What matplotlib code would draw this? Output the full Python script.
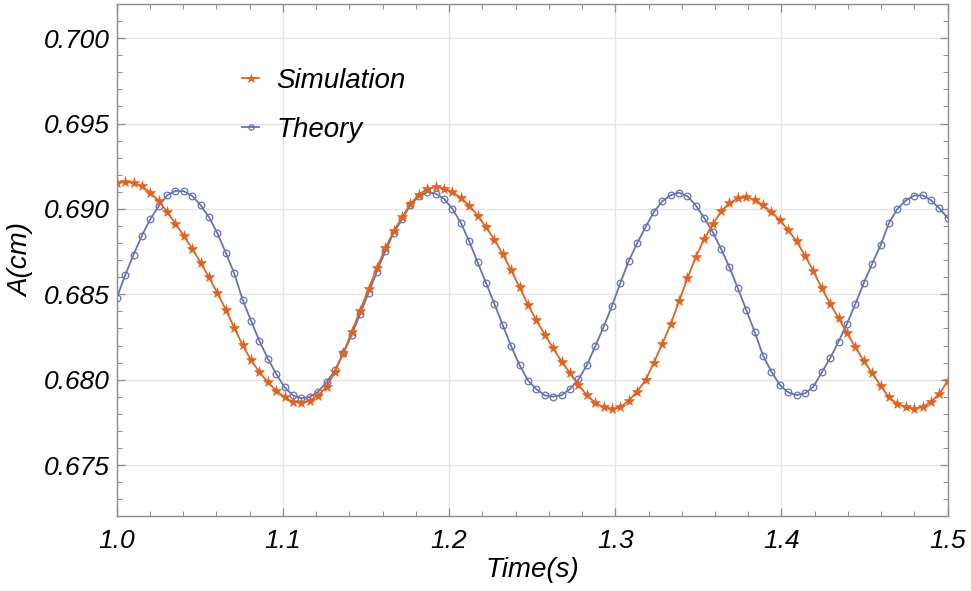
import matplotlib
matplotlib.use("Agg")
import matplotlib.pyplot as plt
import numpy as np
from matplotlib.ticker import MultipleLocator, FormatStrFormatter

plt.rcParams['font.family'] = ['Liberation Sans', 'DejaVu Sans']

# sampling times (100 samples between 1.0 s and 1.5 s)
time = np.linspace(1.0, 1.5, 100)

simulation = [
    0.69153, 0.69158, 0.69153, 0.69133, 0.69094, 0.69048, 0.68984, 0.68914, 0.68842, 0.68766,
    0.68685, 0.68599, 0.68507, 0.68410, 0.68305, 0.68202, 0.68115, 0.68045, 0.67985, 0.67936,
    0.67897, 0.67871, 0.67864, 0.67877, 0.67906, 0.67959, 0.68045, 0.68157, 0.68280, 0.68405,
    0.68530, 0.68655, 0.68770, 0.68870, 0.68951, 0.69029, 0.69084, 0.69117, 0.69129, 0.69119,
    0.69100, 0.69065, 0.69020, 0.68960, 0.68894, 0.68820, 0.68735, 0.68640, 0.68540, 0.68440,
    0.68347, 0.68264, 0.68184, 0.68106, 0.68038, 0.67969, 0.67910, 0.67865, 0.67838, 0.67826,
    0.67838, 0.67878, 0.67930, 0.67998, 0.68100, 0.68210, 0.68325, 0.68460, 0.68595, 0.68720,
    0.68825, 0.68910, 0.68985, 0.69035, 0.69062, 0.69068, 0.69055, 0.69022, 0.68982, 0.68933,
    0.68877, 0.68810, 0.68726, 0.68635, 0.68535, 0.68445, 0.68360, 0.68273, 0.68190, 0.68111,
    0.68038, 0.67965, 0.67897, 0.67858, 0.67838, 0.67830, 0.67838, 0.67871, 0.67916, 0.67993,
]

theory = [
    0.68478, 0.68611, 0.68732, 0.68844, 0.68940, 0.69016, 0.69080, 0.69106, 0.69104, 0.69076,
    0.69022, 0.68951, 0.68857, 0.68743, 0.68622, 0.68469, 0.68345, 0.68227, 0.68124, 0.68034,
    0.67955, 0.67908, 0.67891, 0.67899, 0.67930, 0.67985, 0.68055, 0.68155, 0.68263, 0.68384,
    0.68508, 0.68633, 0.68753, 0.68860, 0.68940, 0.69025, 0.69074, 0.69098, 0.69090, 0.69059,
    0.69000, 0.68918, 0.68810, 0.68687, 0.68566, 0.68444, 0.68318, 0.68195, 0.68085, 0.67995,
    0.67944, 0.67908, 0.67901, 0.67909, 0.67945, 0.68002, 0.68084, 0.68195, 0.68308, 0.68432,
    0.68566, 0.68695, 0.68799, 0.68893, 0.68983, 0.69045, 0.69080, 0.69096, 0.69074, 0.69020,
    0.68947, 0.68866, 0.68766, 0.68658, 0.68536, 0.68409, 0.68280, 0.68141, 0.68047, 0.67969,
    0.67926, 0.67910, 0.67920, 0.67959, 0.68043, 0.68126, 0.68223, 0.68327, 0.68444, 0.68566,
    0.68679, 0.68786, 0.68918, 0.69000, 0.69049, 0.69078, 0.69080, 0.69051, 0.69004, 0.68947,
]

ORANGE = '#DF6420'
BLUE = '#6673B3'
FRAME = '#8c8c8c'

fig = plt.figure(figsize=(9.71, 5.91), dpi=100)
ax = fig.add_axes([0.1202, 0.1264, 0.8558, 0.8668])

th_line, = ax.plot(time, theory, color=BLUE, lw=1.3, marker='o', ms=4.8,
                   mfc='none', mec=BLUE, mew=0.9, label='Theory')
sim_line, = ax.plot(time, simulation, color=ORANGE, lw=1.3, marker='*', ms=8,
                    mec=ORANGE, mew=0.4, label='Simulation')

ax.set_xlim(1.0, 1.5)
ax.set_ylim(0.672, 0.702)

ax.xaxis.set_major_locator(MultipleLocator(0.1))
ax.xaxis.set_minor_locator(MultipleLocator(0.02))
ax.yaxis.set_major_locator(MultipleLocator(0.005))
ax.yaxis.set_minor_locator(MultipleLocator(0.001))
ax.xaxis.set_major_formatter(FormatStrFormatter('%.1f'))
ax.yaxis.set_major_formatter(FormatStrFormatter('%.3f'))

ax.grid(which='major', color='#e4e4e4', lw=1.0)
ax.set_axisbelow(True)

for sp in ax.spines.values():
    sp.set_color(FRAME)
    sp.set_linewidth(1.0)

ax.tick_params(which='both', direction='in', top=True, right=True, color=FRAME)
ax.tick_params(which='major', length=6, width=0.9, labelsize=19)
ax.tick_params(which='minor', length=3.5, width=0.7)
ax.tick_params(axis='x', which='major', pad=9)
ax.tick_params(axis='y', which='major', pad=5)
for lbl in ax.get_xticklabels() + ax.get_yticklabels():
    lbl.set_fontstyle('italic')

ax.set_xlabel('Time(s)', fontsize=20, fontstyle='italic', labelpad=3)
ax.set_ylabel('A(cm)', fontsize=20, fontstyle='italic', labelpad=7)

ax.legend(handles=[sim_line, th_line], loc='upper left', bbox_to_anchor=(0.151, 0.876),
          frameon=False, prop={'style': 'italic', 'size': 20},
          handlelength=0.62, handletextpad=0.62, labelspacing=0.83,
          borderpad=0, borderaxespad=0, markerscale=0.8)

fig.savefig('out.png', dpi=100)
